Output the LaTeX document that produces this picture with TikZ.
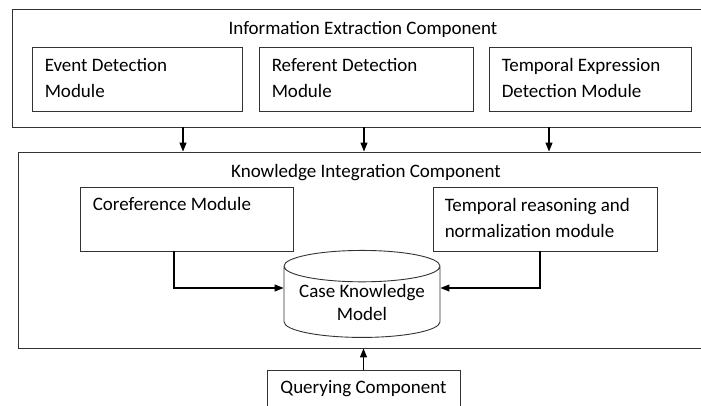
\documentclass[tikz,border=0pt]{standalone}
\usepackage{fontspec}
\setmainfont{Carlito}
\usepackage{tikz}
\usetikzlibrary{positioning, calc, arrows.meta, shapes.geometric}
\tikzset{% boxes, texts and arrows
	compbox/.style={rectangle, draw=black!80, line width=0.9pt, inner sep=0pt},
	modbox/.style={rectangle, draw=black!80, line width=0.9pt, inner sep=0pt, minimum height=64pt},
	modtext/.style={inner sep=0pt, align=left, execute at begin node=\strut},
	titletext/.style={inner sep=0pt},
	store/.style={cylinder, shape border rotate=90, aspect=0.25, draw=black!80, line width=0.9pt, inner sep=0pt, align=center, font=\fontsize{19}{23}\selectfont},
	arrowline/.style={-{Triangle[length=9pt,width=7pt]}, black, line width=1.1pt},
}
\begin{document}
\begin{tikzpicture}[x=1pt, y=-1pt, font=\fontsize{19}{26}\selectfont]
	\useasboundingbox (0,0) rectangle (701,405);
	% information extraction
	\node[compbox, minimum width=691pt, minimum height=117.5pt] (iec) at (357.5,68.25) {};
	\node[titletext] (iectitle) at (363,29.5) {Information Extraction Component};
	\node[modbox, minimum width=210pt] (ed) at (137,79) {};
	\node[modbox, minimum width=214pt] (rd) at (366,79) {};
	\node[modbox, minimum width=202pt] (ted) at (590,79) {};
	\node[modtext, below right=11.5pt and 13pt of ed.north west] (edtext) {Event Detection\\Module};
	\node[modtext, below right=11.5pt and 13pt of rd.north west] (rdtext) {Referent Detection\\Module};
	\node[modtext, below right=11.5pt and 13pt of ted.north west] (tedtext) {Temporal Expression\\Detection Module};
	% knowledge integration
	\node[compbox, minimum width=687pt, minimum height=196pt] (kic) at (361.5,250) {};
	\node[titletext] (kictitle) at (366,173) {Knowledge Integration Component};
	\node[modbox, minimum width=213pt] (coref) at (186.5,219) {};
	\node[modbox, minimum width=224pt] (trn) at (545,219) {};
	\node[modtext, below right=5.5pt and 13pt of coref.north west] (coreftext) {Coreference Module};
	\node[modtext, below right=11.5pt and 12pt of trn.north west] (trntext) {Temporal reasoning and\\normalization module};
	\node[store, minimum width=156pt, minimum height=87pt] (ckm) at (362,302) {Case Knowledge\\Model};
	% querying
	\node[compbox, minimum width=193pt, minimum height=38pt] (qc) at (363.5,389) {Querying Component};
	% arrows
	\foreach \ax in {183,364,549}
		\draw[arrowline] (iec.south -| \ax,0) -- (kic.north -| \ax,0);
	\draw[arrowline] ([xshift=-12.5pt]coref.south) |- ([yshift=14pt]ckm.west);
	\draw[arrowline] ([xshift=-5pt]trn.south) |- ([yshift=14pt]ckm.east);
	\draw[arrowline] (qc.north) -- (qc.north |- kic.south);
\end{tikzpicture}
\end{document}
